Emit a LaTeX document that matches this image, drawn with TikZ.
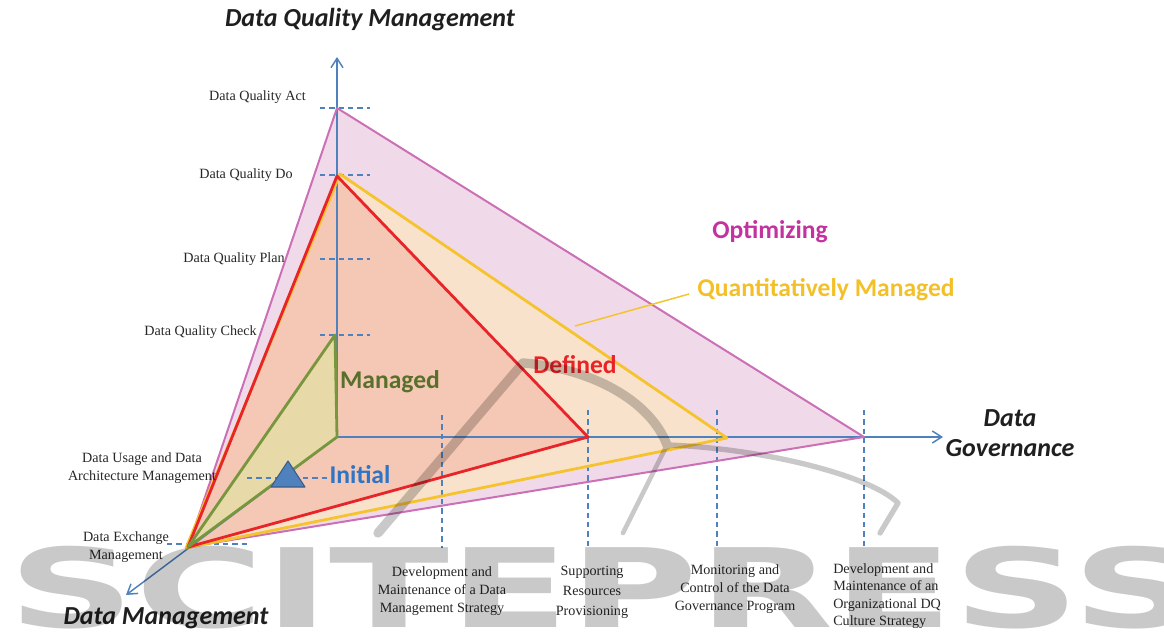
\documentclass[tikz,border=0pt]{standalone}
\usepackage{fontspec}
\setmainfont{Liberation Serif}
\newfontfamily\calib{Carlito}
\newfontfamily\wmfont{DejaVu Sans}
\usetikzlibrary{arrows.meta}
\definecolor{axisblue}{RGB}{79,129,189}
\definecolor{pinkline}{RGB}{204,112,182}
\definecolor{pinkfill}{RGB}{240,218,233}
\definecolor{yelline}{RGB}{245,195,45}
\definecolor{yelfill}{RGB}{248,226,203}
\definecolor{redline}{RGB}{232,36,40}
\definecolor{redfill}{RGB}{245,200,181}
\definecolor{grnline}{RGB}{119,150,62}
\definecolor{grnfill}{RGB}{231,217,168}
\definecolor{opttext}{RGB}{196,50,160}
\definecolor{qmtext}{RGB}{244,192,40}
\definecolor{mantext}{RGB}{88,112,42}
\definecolor{initext}{RGB}{46,117,198}
\definecolor{triline}{RGB}{56,93,138}
\begin{document}
\begin{tikzpicture}[x=0.75pt,y=-0.75pt,
  axisline/.style={draw=axisblue,line width=1.1pt},
  arrowed/.style={-{Straight Barb[length=7pt,width=9pt]}},
  tick/.style={draw=axisblue,line width=1.1pt,dash pattern=on 4pt off 3pt},
  lbl/.style={inner sep=0pt,font=\fontsize{10.6}{13.5}\selectfont,text=black!85},
  axtitle/.style={inner sep=0pt,font=\calib\bfseries\itshape\fontsize{19.5}{23}\selectfont,text=black!88},
  level/.style={inner sep=0pt,font=\calib\bfseries\fontsize{19.2}{23}\selectfont},
  wm/.style={transparency group,opacity=0.21}]
\useasboundingbox (0,0) rectangle (1164,635);
% key points
\coordinate (O) at (337,437);
\coordinate (Ytop) at (337,57);
\coordinate (Xtip) at (943,437);
\coordinate (Dtip) at (126,595);
\coordinate (B) at (188,547);
\coordinate (pA) at (337,108);
\coordinate (pX) at (864,437);
\coordinate (yA) at (340,174);
\coordinate (yX) at (727,438);
\coordinate (yB) at (186,548);
\coordinate (rA) at (337,176);
\coordinate (rX) at (588,437);
\coordinate (gA) at (335,335);
\coordinate (gO) at (337,437);
% fills
\fill[pinkfill] (pA) -- (pX) -- (B) -- cycle;
\fill[yelfill] (yA) -- (yX) -- (yB) -- cycle;
\fill[redfill] (rA) -- (rX) -- (B) -- cycle;
\fill[grnfill] (gA) -- (gO) -- (B) -- cycle;
% axes
\draw[axisline,arrowed] (O) -- (Ytop);
\draw[axisline,arrowed] (O) -- (Xtip);
\draw[axisline,arrowed] (O) -- (Dtip);
% ticks
\foreach \yy/\nm in {108/ta,175/tb,259/tc,335/td}{
  \coordinate (\nm l) at (320,\yy); \coordinate (\nm r) at (370,\yy);
  \draw[tick] (\nm l) -- (\nm r);}
\coordinate (tul) at (247,478); \coordinate (tur) at (330,478);
\draw[tick] (tul) -- (tur);
\coordinate (tel) at (167,544); \coordinate (ter) at (247,544);
\draw[tick] (tel) -- (ter);
\foreach \xx/\yt/\nm in {442/415/xa,588/410/xb,717/410/xc,864/410/xd}{
  \coordinate (\nm t) at (\xx,\yt); \coordinate (\nm b) at (\xx,548);
  \draw[tick] (\nm t) -- (\nm b);}
% polygon outlines
\draw[pinkline,line width=1.5pt,line join=round] (pA) -- (pX) -- (B) -- cycle;
\draw[yelline,line width=2.1pt,line join=round] (yA) -- (yX) -- (yB) -- cycle;
\draw[redline,line width=2.1pt,line join=round] (rA) -- (rX) -- (B) -- cycle;
\draw[grnline,line width=2.1pt,line join=round] (gA) -- (gO) -- (B) -- cycle;
% initial triangle
\coordinate (ta1) at (288,461); \coordinate (ta2) at (305,487); \coordinate (ta3) at (271,487);
\draw[fill=axisblue,draw=triline,line width=0.8pt,line join=round] (ta1) -- (ta2) -- (ta3) -- cycle;
% axis titles
\node[axtitle,anchor=base] (tdqm) at (370,27) {Data Quality Management};
\node[axtitle,align=center] (tdg) at (1010,433) {Data\\Governance};
\node[axtitle] (tdm) at (166,618) {Data Management};
% left labels
\node[lbl,anchor=east] (lact) at (306,97) {Data Quality Act};
\node[lbl,anchor=east] (ldo) at (293,175) {Data Quality Do};
\node[lbl,anchor=east] (lplan) at (285,259) {Data Quality Plan};
\node[lbl,anchor=east] (lcheck) at (257,332) {Data Quality Check};
\node[lbl,align=center] (lusage) at (142,468) {Data Usage and Data\\Architecture Management};
\node[lbl,align=center] (lexch) at (126,547) {Data Exchange\\Management};
% bottom labels
\node[lbl,align=center] (ldms) at (442,591) {Development and\\Maintenance of a Data\\Management Strategy};
\node[lbl,align=center,font=\fontsize{10.6}{15}\selectfont] (lsrp) at (592,592) {Supporting\\Resources\\Provisioning};
\node[lbl,align=center] (lmcg) at (735,589) {Monitoring and\\Control of the Data\\Governance Program};
\node[lbl,align=left,anchor=west,font=\fontsize{10.6}{13}\selectfont] (ldqc) at (833,596) {Development and\\Maintenance of an\\Organizational DQ\\Culture Strategy};
% level labels
\node[level,text=opttext] (lopt) at (770,232) {Optimizing};
\node[level,text=qmtext] (lqm) at (826,290) {Quantitatively Managed};
\node[level,text=redline] (ldef) at (575,365) {Defined};
\node[level,text=mantext] (lman) at (390,382) {Managed};
\node[level,text=initext] (lini) at (360,475) {Initial};
\coordinate (qml) at (575,326);
\draw[yelline,line width=1.1pt] (qml) -- ([xshift=-6pt,yshift=-3pt]lqm.west);
% watermark
\begin{scope}[wm]
\node[inner sep=0pt,text=black] (wmt) at (604,588) {\resizebox{892pt}{61pt}{\wmfont\bfseries SCITEPRESS}};
\coordinate (w1) at (378,533); \coordinate (w2) at (523,363); \coordinate (w3) at (667,445);
\coordinate (w4) at (623,533); \coordinate (w5) at (898,503); \coordinate (w6) at (880,533);
\draw[line width=7pt,line cap=round,line join=round] (w1) -- (w2) .. controls (590,368) and (650,400) .. (w3);
\draw[line width=3.5pt,line cap=round] (w3) -- (w4);
\draw[line width=4pt,line cap=round,line join=round] (w3) .. controls (760,448) and (870,475) .. (w5) -- (w6);
\end{scope}
\end{tikzpicture}
\end{document}
